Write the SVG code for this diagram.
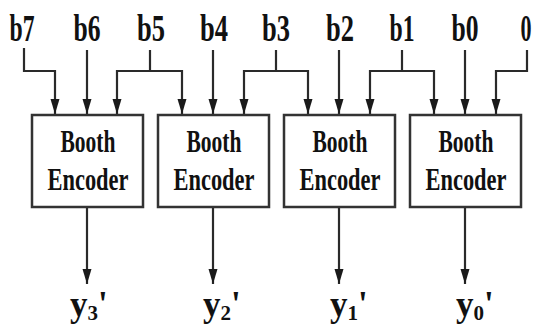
<svg xmlns="http://www.w3.org/2000/svg" width="536" height="329" viewBox="0 0 536 329">
<defs>
<marker id="arr" markerUnits="userSpaceOnUse" markerWidth="16" markerHeight="10" refX="15" refY="5" orient="auto" viewBox="0 0 16 10">
<path d="M0,0.5 L15,5 L0,9.5 Z" fill="#1a1a1a"/>
</marker>
</defs>
<style>
.box{fill:#fff;stroke:#333;stroke-width:2.5}
.w{fill:none;stroke:#2a2a2a;stroke-width:2.2}
.a{fill:none;stroke:#2a2a2a;stroke-width:2.2;marker-end:url(#arr)}
.t{font-family:"Liberation Serif","Times New Roman",serif;font-weight:bold;fill:#111;text-anchor:middle}
.lbl{font-size:38px}
.in{font-size:31px}
.y{font-size:35px;text-anchor:start}
</style>
<rect width="536" height="329" fill="#fff"/>
<g id="labels">
<text class="t lbl" x="22" y="41" textLength="25" lengthAdjust="spacingAndGlyphs">b7</text>
<text class="t lbl" x="87" y="41" textLength="27" lengthAdjust="spacingAndGlyphs">b6</text>
<text class="t lbl" x="151" y="41" textLength="28" lengthAdjust="spacingAndGlyphs">b5</text>
<text class="t lbl" x="214" y="41" textLength="28" lengthAdjust="spacingAndGlyphs">b4</text>
<text class="t lbl" x="276" y="41" textLength="28" lengthAdjust="spacingAndGlyphs">b3</text>
<text class="t lbl" x="340" y="41" textLength="28" lengthAdjust="spacingAndGlyphs">b2</text>
<text class="t lbl" x="402" y="41" textLength="25" lengthAdjust="spacingAndGlyphs">b1</text>
<text class="t lbl" x="465" y="41" textLength="27" lengthAdjust="spacingAndGlyphs">b0</text>
<text class="t lbl" transform="translate(526,41) scale(0.58,1)" x="0" y="0">0</text>
</g>
<g id="connectors">
<path class="a" d="M24,48 V71 H55 V114"/>
<path class="a" d="M87,50 V114"/>
<path class="w" d="M150,50 V71"/>
<path class="a" d="M150,71 H117 V114"/>
<path class="a" d="M150,71 H182 V114"/>
<path class="a" d="M213,50 V114"/>
<path class="w" d="M276,50 V71"/>
<path class="a" d="M276,71 H244 V114"/>
<path class="a" d="M276,71 H308 V114"/>
<path class="a" d="M339,50 V114"/>
<path class="w" d="M402,50 V71"/>
<path class="a" d="M402,71 H370 V114"/>
<path class="a" d="M402,71 H434 V114"/>
<path class="a" d="M465,50 V114"/>
<path class="a" d="M527,50 V71 H496 V114"/>
<path class="a" d="M87,207 V284"/>
<path class="a" d="M213,207 V284"/>
<path class="a" d="M339,207 V284"/>
<path class="a" d="M465,207 V284"/>
</g>
<g id="enc3">
<rect class="box" x="32" y="115" width="111" height="92"/>
<text class="t in" x="88" y="152" textLength="55" lengthAdjust="spacingAndGlyphs">Booth</text>
<text class="t in" x="88" y="190" textLength="81" lengthAdjust="spacingAndGlyphs">Encoder</text>
</g>
<g id="enc2">
<rect class="box" x="158" y="115" width="111" height="92"/>
<text class="t in" x="214" y="152" textLength="55" lengthAdjust="spacingAndGlyphs">Booth</text>
<text class="t in" x="214" y="190" textLength="81" lengthAdjust="spacingAndGlyphs">Encoder</text>
</g>
<g id="enc1">
<rect class="box" x="284" y="115" width="111" height="92"/>
<text class="t in" x="340" y="152" textLength="55" lengthAdjust="spacingAndGlyphs">Booth</text>
<text class="t in" x="340" y="190" textLength="81" lengthAdjust="spacingAndGlyphs">Encoder</text>
</g>
<g id="enc0">
<rect class="box" x="410" y="115" width="111" height="92"/>
<text class="t in" x="466" y="152" textLength="55" lengthAdjust="spacingAndGlyphs">Booth</text>
<text class="t in" x="466" y="190" textLength="81" lengthAdjust="spacingAndGlyphs">Encoder</text>
</g>
<g id="outputs">
<text class="t y" x="70" y="316">y<tspan font-size="21" dy="4">3</tspan><tspan dy="-4">'</tspan></text>
<text class="t y" x="203" y="316">y<tspan font-size="21" dy="4">2</tspan><tspan dy="-4">'</tspan></text>
<text class="t y" x="330" y="316">y<tspan font-size="21" dy="4">1</tspan><tspan dy="-4">'</tspan></text>
<text class="t y" x="456" y="316">y<tspan font-size="21" dy="4">0</tspan><tspan dy="-4">'</tspan></text>
</g>
</svg>
